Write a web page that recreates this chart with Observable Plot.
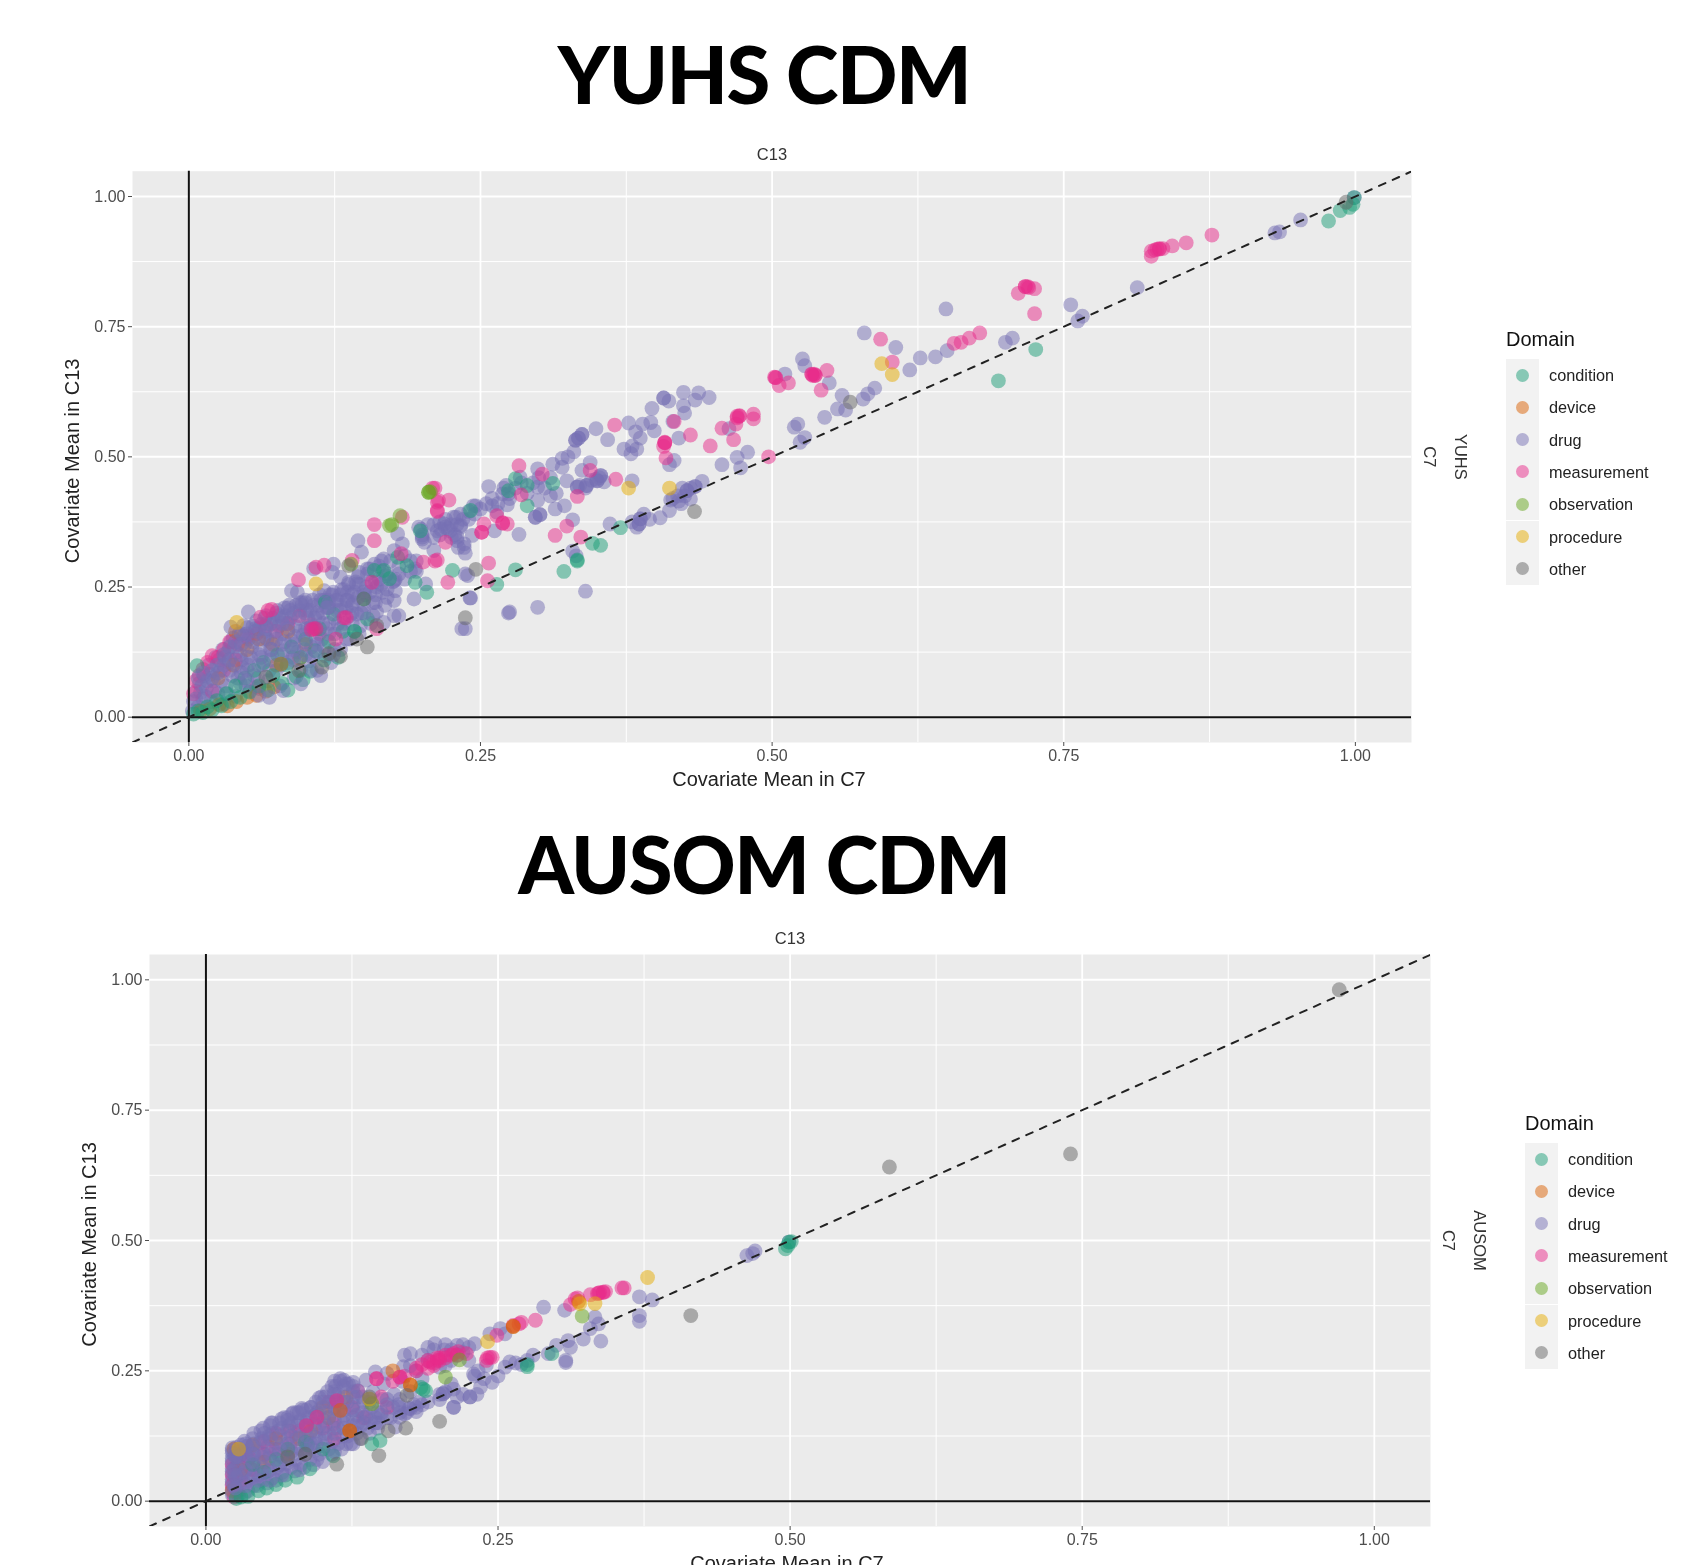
<!DOCTYPE html>
<html><head><meta charset="utf-8">
<script src="https://cdn.jsdelivr.net/npm/d3@7"></script>
<script src="https://cdn.jsdelivr.net/npm/@observablehq/plot@0.6"></script>
<style>
html,body{margin:0;padding:0;background:#fff;}
#page{position:relative;width:1685px;height:1565px;overflow:hidden;font-family:"Liberation Sans",Arial,sans-serif;}
.t{position:absolute;left:0;width:1528px;text-align:center;font-family:Lato,sans-serif;font-weight:900;font-size:79.5px;line-height:100px;color:#000;letter-spacing:-1.5px;}
.p{position:absolute;left:0;filter:blur(.55px);}
.p svg{display:block;}
.lg{position:absolute;filter:blur(.4px);color:#222;}
.lg .h{position:absolute;left:0;top:-31px;font-size:20px;line-height:22px;color:#111;white-space:nowrap;}
.lg .k{position:absolute;left:0;width:33px;height:32.3px;background:#F2F2F2;}
.lg .d{position:absolute;left:10px;top:9.6px;width:13px;height:13px;border-radius:50%;opacity:.5;}
.lg .l{position:absolute;left:43px;font-size:16.3px;line-height:32.3px;white-space:nowrap;}
</style></head><body>
<div id="page">
<div class="t" style="top:24px">YUHS CDM</div>
<div class="t" style="top:814px">AUSOM CDM</div>
<div class="p" id="p1" style="top:130px"></div>
<div class="p" id="p2" style="top:910px"></div>
</div>
<script>
const domains=["condition","device","drug","measurement","observation","procedure","other"];
const dark2=["#1B9E77","#D95F02","#7570B3","#E7298A","#66A61E","#E6AB02","#666666"];
const axisTicks=[0,.25,.5,.75,1];
const minorTicks=[.125,.375,.625,.875];
const diagonal=[{x:-.06,y:-.06},{x:1.06,y:1.06}];

// ---- YUHS: flat x,y lists ----
const yuhsDrugDense=[.003,.012,.004,.03,.006,.05,.008,.02,.009,.065,.012,.035,.013,.08,.015,.055,.017,.1,.019,.03,
.021,.07,.023,.115,.025,.045,.027,.09,.029,.13,.03,.025,.032,.06,.034,.105,.036,.145,.037,.08,
.04,.04,.041,.125,.043,.16,.044,.065,.046,.095,.048,.14,.05,.172,.052,.05,.053,.115,.055,.155,
.056,.08,.058,.185,.06,.055,.061,.13,.063,.1,.065,.165,.066,.195,.068,.07,.07,.145,.071,.118,
.073,.18,.075,.09,.076,.205,.078,.06,.08,.16,.081,.128,.083,.195,.085,.105,.086,.215,.088,.148,
.09,.075,.091,.175,.093,.125,.095,.205,.096,.09,.098,.158,.1,.225,.102,.19,.103,.108,.105,.135,
.107,.215,.109,.17,.11,.09,.112,.235,.114,.15,.115,.2,.117,.118,.119,.225,.12,.18,.122,.105,.124,.24,.125,.16,.127,.205,.13,.13,.131,.245,.133,.18,.135,.225,.137,.255,.138,.15,.14,.2,.142,.24,.145,.27,.147,.175,.15,.215,.152,.25,.155,.285,.158,.195,.16,.235,.163,.265,.165,.3,.168,.215,
.01,.048,.018,.082,.026,.11,.033,.125,.038,.152,.045,.11,.051,.15,.057,.17,.062,.178,.067,.15,.072,.19,.077,.175,.082,.21,.087,.19,.092,.215,.097,.215,.101,.205,.106,.225,.111,.215,.116,.225,.121,.235,.126,.225,.13,.235,.136,.24,.141,.22,.146,.255,.151,.235,.156,.26,.161,.25,.166,.28];
const yuhsMeasDense=[.004,.045,.006,.07,.009,.08,.012,.092,.016,.105,.02,.118,.025,.115,.03,.13,.035,.145,.042,.14,.05,.155,.058,.16,.066,.175,.075,.165,.085,.18,.095,.195,.105,.178,.112,.16,.058,.058,.02,.05,.03,.09,.04,.11];
const yuhsDeviceDense=[.01,.012,.018,.016,.026,.024,.033,.022,.041,.03,.05,.038,.058,.042,.066,.05,.073,.058,.025,.075,.038,.1,.05,.13,.06,.15,.072,.14,.085,.165,.04,.165,.1,.14,.075,.1,.095,.113];
const yuhsDrugFill=[.006,.035,.011,.06,.014,.04,.016,.07,.02,.09,.022,.05,.024,.1,.028,.07,.031,.115,.033,.045,.035,.09,.039,.135,.042,.075,.044,.12,.047,.155,.049,.06,.051,.1,.054,.135,.057,.165,.059,.075,.062,.115,.064,.15,.067,.18,.069,.09,.071,.13,.074,.165,.077,.195,.079,.1,.082,.145,.084,.18,.087,.205,.089,.115,.091,.155,.094,.19,.097,.22,.099,.13,.102,.17,.104,.205,.106,.115,.109,.15,.111,.19,.113,.225,.116,.135,.118,.17,.12,.21,.123,.235,.125,.13,.128,.18,.13,.215,.133,.245,.135,.15,.138,.195,.14,.235,.143,.26,.146,.16,.148,.2,.15,.24,.153,.275,.156,.18,.158,.22,.16,.26,.163,.29,.166,.24,.17,.275,.173,.3,.177,.265,.18,.29,.185,.31,.19,.28,.195,.3,
.2,.35,.205,.37,.21,.345,.215,.375,.225,.37,.228,.35,.235,.38,.24,.395,.245,.39,.25,.4,.255,.41,.26,.42,.265,.41,.27,.44,.275,.42,.28,.44,.285,.45,.29,.43,.295,.45,.3,.46,.305,.44,.31,.46,.315,.43,.32,.48,.325,.5,.33,.51,.335,.445,.34,.44,.345,.455,.352,.46,.356,.452,.38,.375,.39,.39,.395,.38,.415,.42,.42,.415,.425,.425,.43,.44];
const yuhsDrugExtra=[.03,.12,.035,.135,.04,.145,.045,.14,.05,.16,.055,.145,.06,.17,.065,.155,.07,.18,.075,.15,.08,.18,.085,.17,.09,.2,.095,.165,.1,.2,.105,.175,.11,.2,.115,.18,.12,.22,.125,.19,.13,.205,.135,.21,.14,.215,.145,.23,.15,.2,.155,.24,.16,.22,.165,.255,.17,.23,.175,.26,.18,.275,.185,.265,.19,.3,.195,.28,.06,.12,.07,.13,.08,.14,.09,.13,.1,.145,.11,.14,.12,.16,.13,.17,.14,.18,.05,.09,.06,.1,.07,.11,.08,.12,.09,.11,.1,.12,.11,.125,.02,.075,.025,.085,.03,.1,.035,.11,.04,.1,.045,.085,.05,.07,.21,.37,.22,.38,.23,.37,.24,.38,.215,.35,.225,.345,.008,.075,.012,.085];
const yuhsCondDense=[.004,.006,.008,.012,.012,.009,.016,.02,.02,.014,.024,.032,.028,.022,.032,.045,.036,.03,.04,.06,.044,.038,.048,.075,.052,.048,.056,.09,.06,.06,.064,.105,.068,.052,.072,.08,.076,.12,.08,.065,.084,.1,.088,.135,.092,.078,.096,.115,.1,.15,.104,.088,.108,.128,.112,.17,.116,.11,.12,.145,.124,.198,.128,.115,.132,.165,.142,.165,.153,.189,.117,.221,.15,.227,.007,.099,.085,.052,.098,.072];
const yuhsDrugOver=[.05,.115,.066,.17,.08,.19,.09,.14,.1,.17,.108,.19,.118,.21,.088,.243,.093,.24,.1,.22,.116,.243,.127,.224,.136,.224,.119,.211,.144,.198,.036,.173,.051,.202,.047,.176,.081,.051,.069,.038,.096,.064,.113,.08,.06,.042,.105,.09,.124,.12,.045,.16,.055,.175,.065,.19,.075,.2,.085,.21,.095,.22];
const yuhsDrugMid=[.145,.339,.148,.317,.179,.352,.183,.333,.176,.32,.167,.304,.159,.294,.197,.365,.2,.346,.202,.336,.213,.358,.219,.371,.224,.358,.23,.346,.227,.384,.222,.362,.233,.368,.21,.32,.194,.285,.203,.256,.193,.227,.124,.294,.107,.285,.123,.278,.13,.269,.146,.278,.153,.285,.137,.259,.144,.256,.161,.202,.176,.195,.18,.195,.167,.182,.176,.224,.177,.243,.17,.246,.176,.262,.169,.272,.199,.361,.2,.342,.229,.384,.233,.39,.244,.406,.216,.361,.22,.365,.23,.339,.236,.326,.231,.326,.239,.272,.241,.229,.234,.17,.237,.17,.274,.2];
const yuhsDrugHigh=[.424,.624,.437,.623,.446,.614,.407,.613,.4115,.607,.434,.609,.424,.598,.425,.584,.397,.593,.377,.565,.396,.566,.389,.563,.399,.55,.383,.548,.415,.568,.349,.554,.337,.543,.3315,.532,.334,.536,.359,.533,.373,.515,.384,.515,.379,.506,.387,.536,.38,.521,.42,.536,.463,.554,.479,.509,.47,.499,.457,.485,.473,.479,.416,.493,.412,.485,.44,.453,.434,.443,.427,.435,.423,.44,.419,.425,.413,.417,.43,.419,.422,.41,.412,.397,.404,.383,.387,.381,.386,.371,.384,.365,.361,.371,.38,.454,.353,.464,.349,.457,.344,.489,.337,.474,.324,.454,.341,.445,.333,.442,.35,.454,.32,.497,.312,.486,.299,.477,.284,.461,.257,.443,.272,.445,.274,.429,.269,.429,.299,.442,.31,.425,.299,.416,.273,.408,.322,.406,.314,.4,.297,.384,.301,.389,.329,.379,.26,.406,.264,.394,.246,.406,.262,.358,.283,.351,.243,.349,.236,.333,.237,.315,.329,.319,.332,.31,.34,.242,.2415,.229,.299,.211,.275,.202,.237,.275,.233,.365,
.333,.442,.341,.445,.35,.454,.353,.464,.297,.384,.301,.389,.3315,.532,.334,.536,.337,.543,.407,.613,.386,.371,.387,.381,.427,.435,.434,.443];
const yuhsDrugTop=[.649,.784,.579,.738,.606,.71,.756,.792,.762,.761,.766,.77,.813,.825,.931,.93,.935,.932,.953,.955,.706,.728,.7,.72,.65,.704,.64,.692,.627,.69,.618,.667,.526,.688,.511,.659,.528,.675,.549,.642,.56,.618,.588,.632,.582,.621,.578,.611,.556,.592,.563,.59,.545,.576,.522,.563,.519,.557,.528,.537,.524,.528,.999,.998];
const yuhsMeas=[.365,.561,.283,.483,.303,.467,.344,.474,.366,.457,.333,.424,.285,.427,.416,.568,.408,.527,.408,.527,.407,.52,.409,.498,.43,.542,.447,.521,.457,.555,.469,.563,.472,.579,.47,.575,.484,.582,.484,.573,.467,.533,.497,.5,.502,.653,.514,.642,.506,.637,.536,.659,.534,.659,.537,.656,.547,.666,.542,.628,.603,.682,.253,.371,.251,.355,.269,.373,.273,.371,.264,.387,.324,.367,.314,.349,.336,.346,.257,.296,.256,.262,
.877,.926,.855,.911,.843,.905,.832,.899,.828,.897,.825,.895,.825,.885,.717,.827,.719,.827,.725,.823,.711,.814,.725,.775,.678,.738,.669,.728,.662,.72,.656,.718,.593,.726,
.107,.17,.109,.17,.105,.168,.133,.191,.135,.191,.068,.205,.071,.207,.094,.264,.109,.288,.116,.292,.14,.301,.159,.37,.159,.339,.157,.259,.182,.314,.183,.384,.213,.397,.213,.395,.214,.416,.222,.259,.213,.302,.211,.3,.201,.298,.22,.336,.126,.15,.0615,.192,.209,.44,.211,.44,.223,.417,.213,.413,.161,.17,
.83,.899,.832,.9,.835,.9,.717,.827,.72,.825,.535,.656,.537,.657,.503,.652,.47,.578,.472,.578,.408,.528,.534,.658,.251,.355,.269,.373,.503,.652];
const yuhsCond=[.28,.458,.312,.449,.29,.406,.29,.445,.274,.435,.2415,.397,.37,.364,.346,.334,.353,.33,.333,.302,.3215,.28,.28,.283,.264,.255,.694,.646,.726,.706,.977,.953,.987,.973,.995,.979,.998,.985,.999,.998,
.167,.282,.159,.282,.172,.266,.187,.291,.194,.259,.226,.282,.204,.24,.179,.307,.1985,.358,.142,.165,.333,.3];
const yuhsObs=[.2055,.432,.2055,.432,.207,.433,.181,.387,.172,.368,.174,.37,.139,.294];
const yuhsProc=[.377,.44,.412,.44,.594,.679,.603,.658,.079,.102,.109,.256,.041,.182];
const yuhsOther=[.4335,.395,.246,.284,.567,.605,.992,.989,.237,.191,.0943,.0897,.114,.096,.13,.117,.12,.122,.144,.15,.153,.135,.161,.176,.15,.227,.066,.077,.079,.102,.137,.291];

// ---- AUSOM ----
const ausomDrugDense=[.0225,.012,.0225,.022,.0225,.032,.0225,.042,.0225,.052,.0225,.062,.0225,.072,.0225,.082,.0225,.092,.0225,.102,
.028,.012,.029,.03,.03,.05,.028,.07,.03,.088,.03,.108,.036,.02,.037,.04,.038,.062,.036,.08,.037,.098,.04,.12,.044,.03,.045,.05,.046,.075,.045,.095,.046,.112,.047,.135,
.052,.035,.053,.058,.054,.082,.053,.105,.054,.125,.056,.15,.06,.04,.061,.065,.062,.09,.06,.112,.062,.135,.065,.158,.068,.05,.069,.072,.07,.098,.07,.12,.071,.145,.074,.168,
.076,.058,.077,.08,.078,.105,.077,.13,.079,.152,.082,.178,.084,.065,.085,.09,.086,.115,.086,.14,.087,.16,.09,.18,.092,.07,.093,.097,.094,.122,.093,.148,.095,.17,.097,.198,
.1,.076,.101,.105,.102,.13,.101,.155,.103,.18,.104,.21,.108,.09,.109,.115,.11,.14,.11,.165,.111,.19,.111,.22,.116,.1,.117,.125,.118,.15,.118,.175,.118,.2,.118,.232,
.124,.11,.125,.135,.126,.16,.126,.185,.126,.21,.126,.228,.132,.12,.133,.145,.134,.17,.134,.2,.14,.13,.141,.155,.142,.18,.143,.21,.137,.232,.145,.248,
.148,.15,.15,.165,.151,.195,.152,.225,.155,.245,.158,.16,.16,.18,.161,.205,.166,.17,.166,.195,.168,.23,.169,.258,.174,.178,.175,.21,.175,.283,.18,.25,.183,.19,.185,.235,.19,.27,.196,.302,.2,.257,.204,.29,.21,.27,.215,.299,.22,.285,.23,.302,.225,.27,.2,.195,.205,.21,.21,.225];
const ausomMeasDense=[.0225,.03,.0225,.05,.0225,.07,.03,.04,.03,.065,.03,.09,.04,.06,.037,.084,.05,.09,.05,.115,.06,.1,.06,.13,.072,.135,.072,.11,.08,.135,.086,.145,.095,.161,.1,.14,.109,.148,.11,.12,.112,.193,.105,.19,.115,.175,.125,.18,.13,.211,.135,.16,.155,.18,.15,.2,.146,.235,.16,.23,.166,.238,.17,.24,.18,.25,.027,.018,.024,.008];
const ausomDeviceDense=[.0225,.02,.024,.1,.03,.06,.04,.108,.05,.075,.06,.12,.07,.09,.08,.12,.09,.135,.1,.18,.105,.16,.12,.2,.16,.25];
const ausomDrugFill=[.0225,.017,.0225,.037,.0225,.057,.0225,.077,.0225,.097,.026,.025,.026,.045,.026,.065,.026,.085,.026,.103,.033,.015,.033,.035,.033,.055,.033,.075,.033,.095,.033,.115,.041,.03,.041,.05,.041,.07,.041,.09,.041,.11,.041,.13,.049,.04,.049,.065,.049,.09,.049,.115,.049,.14,.057,.045,.057,.075,.057,.1,.057,.13,.057,.15,.065,.055,.065,.085,.065,.11,.065,.14,.067,.16,.073,.065,.073,.095,.073,.125,.073,.15,.075,.17,.081,.07,.081,.1,.081,.125,.081,.155,.083,.175,.089,.08,.089,.105,.089,.13,.089,.16,.09,.18,.097,.09,.097,.12,.097,.145,.097,.175,.099,.2,.105,.1,.105,.13,.105,.16,.106,.19,.108,.22,.113,.11,.113,.14,.113,.175,.113,.205,.115,.23,.121,.125,.121,.155,.121,.19,.122,.225,.129,.13,.129,.165,.129,.2,.13,.212,.138,.14,.138,.165,.14,.19,.147,.14,.147,.17,.155,.16,.155,.195,.165,.18,.172,.17,.178,.185,.17,.28,.185,.28,.195,.29,.205,.3,.215,.28,.22,.3,.205,.26,.23,.24,.238,.235,.22,.205,.215,.2];
const ausomDrugExtra=[.024,.03,.024,.06,.024,.09,.028,.05,.028,.085,.034,.03,.034,.06,.034,.09,.034,.11,.04,.045,.04,.075,.04,.105,.048,.055,.048,.085,.048,.12,.055,.06,.055,.09,.055,.12,.055,.145,.063,.07,.063,.1,.063,.125,.063,.15,.07,.08,.07,.11,.07,.135,.07,.16,.078,.09,.078,.12,.078,.145,.078,.17,.086,.1,.086,.125,.086,.15,.086,.175,.094,.11,.094,.135,.094,.165,.094,.19,.102,.12,.102,.145,.102,.17,.102,.2,.11,.13,.11,.155,.11,.18,.11,.21,.11,.23,.118,.14,.118,.165,.118,.19,.118,.22,.126,.145,.126,.175,.126,.2,.126,.22,.135,.15,.135,.19,.145,.16,.155,.185,.18,.18,.19,.19,.2,.205,.175,.26,.19,.295,.21,.29,.225,.295];
const ausomCondDense=[.026,.005,.03,.008,.036,.009,.045,.02,.052,.025,.06,.032,.068,.04,.078,.046,.089,.062,.085,.113,.087,.108,.109,.087,.1,.1,.06,.08,.07,.1,.149,.116,.142,.11,.05,.055,.04,.07];
const ausomDrugOver=[.025,.05,.025,.085,.035,.105,.04,.09,.05,.13,.07,.155,.08,.17,.09,.11,.1,.19,.11,.205,.115,.235,.12,.225,.13,.15,.14,.195,.165,.185,.15,.17,.175,.177,.18,.172,.17,.167,.185,.185,.166,.161,.203,.206,.212,.215,.212,.18,.226,.2,.232,.205,.229,.244,.233,.25,.245,.228,.235,.219,.137,.161,.13,.175,.145,.15,.12,.11,.126,.11,.162,.142,.045,.04,.065,.05,.055,.04,.08,.06,.095,.08,.11,.095,.025,.025,.203,.206,.212,.18,.226,.2];
const ausomDrugHigh=[.47,.48,.463,.471,.468,.475,.289,.372,.307,.366,.371,.392,.382,.386,.371,.356,.371,.345,.333,.353,.336,.34,.329,.331,.338,.307,.323,.311,.31,.308,.312,.295,.3,.299,.293,.283,.308,.27,.308,.266,.275,.27,.26,.267,.256,.257,.252,.331,.243,.321,.256,.321,.499,.497,.24,.26,.25,.24,.28,.28,.27,.262,.265,.265];
const ausomMeas=[.243,.276,.245,.276,.241,.275,.192,.267,.185,.262,.198,.27,.205,.28,.212,.283,.216,.287,.223,.283,.34,.401,.342,.402,.337,.4,.335,.398,.329,.396,.358,.409,.356,.409,.316,.388,.312,.377,.318,.39,.282,.347,.27,.343,.263,.337,.268,.34,.249,.318,.195,.26,.2,.275,.19,.255,.2,.27,.205,.275,.195,.265,.21,.28,.215,.28,.18,.255,.19,.27,.198,.275,.24,.27,.34,.4,.336,.399,.086,.145,.095,.161,.112,.193,.166,.238,.146,.235];
const ausomDevice=[.123,.135,.123,.135,.175,.223,.175,.223,.115,.174,.319,.383,.263,.335,.263,.335];
const ausomCond=[.186,.215,.188,.212,.184,.218,.499,.497,.496,.484,.498,.49,.501,.498,.296,.283,.275,.262,.275,.258];
const ausomObs=[.205,.238,.142,.187,.217,.271,.322,.355];
const ausomProc=[.378,.429,.333,.379,.32,.379,.241,.306,.14,.196,.028,.1];
const ausomOther=[.415,.356,.97,.981,.74,.666,.585,.641,.112,.071,.148,.0875,.2,.153,.171,.14,.156,.135,.133,.12,.172,.203,.14,.2,.085,.09,.07,.085];

function rows(list,domain){const out=[];for(let i=0;i<list.length;i+=2)out.push({x:list[i],y:list[i+1],domain});return out;}
const yuhsRows=[].concat(rows(yuhsDrugDense,"drug"),rows(yuhsMeasDense,"measurement"),rows(yuhsDeviceDense,"device"),rows(yuhsDrugFill,"drug"),rows(yuhsCondDense,"condition"),rows(yuhsDrugExtra,"drug"),rows(yuhsDrugOver,"drug"),rows(yuhsDrugMid,"drug"),rows(yuhsDrugHigh,"drug"),rows(yuhsDrugTop,"drug"),rows(yuhsCond,"condition"),rows(yuhsMeas,"measurement"),rows(yuhsObs,"observation"),rows(yuhsProc,"procedure"),rows(yuhsOther,"other"));
const ausomRows=[].concat(rows(ausomDrugDense,"drug"),rows(ausomMeasDense,"measurement"),rows(ausomDeviceDense,"device"),rows(ausomDrugFill,"drug"),rows(ausomCondDense,"condition"),rows(ausomDrugExtra,"drug"),rows(ausomDrugOver,"drug"),rows(ausomDrugHigh,"drug"),rows(ausomMeas,"measurement"),rows(ausomCond,"condition"),rows(ausomDevice,"device"),rows(ausomObs,"observation"),rows(ausomProc,"procedure"),rows(ausomOther,"other"));

function panel(data,opt){
  const font="Liberation Sans, Arial, sans-serif";
  return Plot.plot({
    width:1685,height:opt.height,
    marginLeft:opt.left,marginRight:opt.right,marginTop:opt.top,marginBottom:opt.bottom,
    style:{fontFamily:font,background:"transparent"},
    x:{domain:[-.0483,1.0481],label:null},
    y:{domain:[-.0486,1.0486],label:null},
    color:{domain:domains,range:dark2},
    marks:[
      Plot.frame({fill:"#EBEBEB",stroke:"none"}),
      Plot.ruleX(minorTicks,{stroke:"#fff",strokeWidth:1}),
      Plot.ruleY(minorTicks,{stroke:"#fff",strokeWidth:1}),
      Plot.ruleX(axisTicks,{stroke:"#fff",strokeWidth:1.8}),
      Plot.ruleY(axisTicks,{stroke:"#fff",strokeWidth:2}),
      Plot.dot(data,{x:"x",y:"y",r:7.4,fill:"domain",fillOpacity:.5,stroke:"none"}),
      Plot.ruleX([0],{stroke:"#111",strokeWidth:2}),
      Plot.ruleY([0],{stroke:"#111",strokeWidth:2}),
      Plot.line(diagonal,{x:"x",y:"y",stroke:"#222",strokeWidth:2,strokeDasharray:"7,8",clip:true}),
      Plot.axisX({ticks:axisTicks,tickFormat:d3.format(".2f"),tickSize:4,tickPadding:3,fontSize:16,color:"#4D4D4D",label:null}),
      Plot.axisY({ticks:axisTicks,tickFormat:d3.format(".2f"),tickSize:4,tickPadding:3,fontSize:16,color:"#4D4D4D",label:null}),
      Plot.text(["Covariate Mean in C7"],{frameAnchor:"bottom",lineAnchor:"middle",textAnchor:"middle",dx:-3,dy:37,fontSize:20,fill:"#222"}),
      Plot.text(["Covariate Mean in C13"],{frameAnchor:"left",lineAnchor:"middle",textAnchor:"middle",rotate:-90,dx:-60,dy:4,fontSize:20,fill:"#222"}),
      Plot.text(["C13"],{frameAnchor:"top",lineAnchor:"middle",textAnchor:"middle",dy:-16,fontSize:16.5,fill:"#333"}),
      Plot.text(["C7"],{frameAnchor:"right",lineAnchor:"middle",textAnchor:"middle",rotate:90,dx:18,fontSize:16.5,fill:"#333"}),
      Plot.text([opt.strip],{frameAnchor:"right",lineAnchor:"middle",textAnchor:"middle",rotate:90,dx:49,fontSize:16.5,fill:"#333"})
    ]
  });
}
document.getElementById("p1").append(panel(yuhsRows,{height:660,left:132,right:274,top:40.7,bottom:48,strip:"YUHS"}));
document.getElementById("p2").append(panel(ausomRows,{height:655,left:149,right:255,top:44,bottom:39,strip:"AUSOM"}));

function legend(left,top){
  const page=document.getElementById("page");
  const g=document.createElement("div");g.className="lg";g.style.left=left+"px";g.style.top=top+"px";
  let html='<div class="h">Domain</div>';
  domains.forEach((d,i)=>{
    const y=i*32.3;
    html+=`<div class="k" style="top:${y}px"><div class="d" style="background:${dark2[i]}"></div></div><div class="l" style="top:${y}px">${d}</div>`;
  });
  g.innerHTML=html;page.append(g);
}
legend(1506,359);
legend(1525,1143);
</script>
</body></html>
